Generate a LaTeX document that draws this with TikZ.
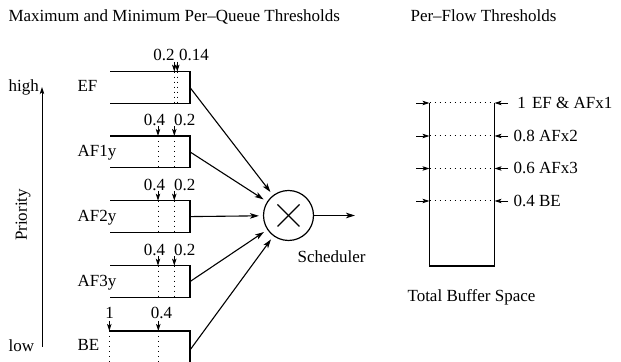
\documentclass[tikz,border=0pt]{standalone}
\usepackage{fontspec}
\setmainfont{Liberation Serif}
\usetikzlibrary{arrows.meta}
\begin{document}
\begin{tikzpicture}[x=0.5pt,y=-0.5pt, line width=0.55pt,
  lbl/.style={inner sep=0pt, font=\fontsize{8.5}{10}\selectfont},
  arr/.style={-{Stealth[length=4.5pt,width=2.8pt,inset=1.2pt]}},
  tick/.style={-{Stealth[length=3.5pt,width=2.2pt,inset=0.8pt]}, line width=0.45pt},
  thr/.style={dotted, line width=0.5pt},
  qbox/.style={line width=0.6pt}]
\useasboundingbox (0,0) rectangle (621,362);
\clip (0,0) rectangle (621,362);

% titles
\node[lbl, anchor=base west] (t1) at (8,22) {Maximum and Minimum Per–Queue Thresholds};
\node[lbl, anchor=base west] (t2) at (410,22) {Per–Flow Thresholds};

% priority axis
\node[lbl, anchor=base west] (high) at (8,92) {high};
\node[lbl, anchor=base west] (low) at (8,352) {low};
\node[lbl, rotate=90] (prio) at (23,215) {Priority};
\coordinate (pbot) at (42,347);
\coordinate (ptop) at (42,87);
\draw[tick] (pbot) -- (ptop);

% queue labels
\node[lbl, anchor=base west] (lEF) at (77,92) {EF};
\node[lbl, anchor=base west] (lA1) at (77,157) {AF1y};
\node[lbl, anchor=base west] (lA2) at (77,221.5) {AF2y};
\node[lbl, anchor=base west] (lA3) at (77,286.5) {AF3y};
\node[lbl, anchor=base west] (lBE) at (77,351) {BE};

% EF queue
\draw[qbox] (110,71.7) -- (190,71.7) -- (190,103.3) -- (110,103.3);
\draw[thr] (174.3,71.7) -- (174.3,103.3);
\draw[thr] (177.3,71.7) -- (177.3,103.3);
\coordinate (e1) at (174.3,62); \coordinate (e1b) at (174.3,71.7);
\coordinate (e2) at (177.3,62); \coordinate (e2b) at (177.3,71.7);
\draw[tick] (e1) -- (e1b);
\draw[tick] (e2) -- (e2b);
\node[lbl, anchor=base] (nEFa) at (164,60.5) {0.2};
\node[lbl, anchor=base] (nEFb) at (194,60.5) {0.14};
\coordinate (qEF) at (190,87.5);

% AF queues
\foreach \T/\nm in {136/A1, 200.7/A2, 265.7/A3}{
  \draw[qbox] (110,\T) -- (190,\T) -- (190,\T+31.8) -- (110,\T+31.8);
  \draw[thr] (158,\T) -- (158,\T+31.8);
  \draw[thr] (174.3,\T) -- (174.3,\T+31.8);
  \coordinate (\nm a) at (158,\T-9.5); \coordinate (\nm ab) at (158,\T);
  \coordinate (\nm b) at (174.3,\T-9.5); \coordinate (\nm bb) at (174.3,\T);
  \draw[tick] (\nm a) -- (\nm ab);
  \draw[tick] (\nm b) -- (\nm bb);
  \node[lbl, anchor=base] (n\nm a) at (154.5,\T-10.5) {0.4};
  \node[lbl, anchor=base west] (n\nm b) at (173.5,\T-10.5) {0.2};
  \coordinate (q\nm) at (190,\T+15.9);
}

% BE queue
\draw[qbox] (109.3,331) -- (190,331) -- (190,363);
\draw[thr] (109.3,331) -- (109.3,363);
\draw[thr] (158.3,331) -- (158.3,363);
\coordinate (b1) at (109.3,321.5); \coordinate (b1b) at (109.3,331);
\coordinate (b2) at (158.3,321.5); \coordinate (b2b) at (158.3,331);
\draw[tick] (b1) -- (b1b);
\draw[tick] (b2) -- (b2b);
\node[lbl, anchor=base] (nB1) at (109.7,319) {1};
\node[lbl, anchor=base] (nB2) at (161.5,319) {0.4};
\coordinate (qBE) at (190,350);

% scheduler
\node[draw, circle, minimum size=25pt, inner sep=0pt, line width=0.6pt] (sch) at (288.5,215.5) {};
\draw ([shift={(-11,-11)}]sch.center) -- ([shift={(11,11)}]sch.center);
\draw ([shift={(-11,11)}]sch.center) -- ([shift={(11,-11)}]sch.center);
\node[lbl, anchor=base west] (schl) at (297,263) {Scheduler};
\foreach \q in {qEF,qA1,qA2,qA3,qBE}{
  \draw[arr, shorten >=2pt] (\q) -- (sch);
}
\coordinate (out) at (355,215.5);
\draw[arr] (sch) -- (out);

% buffer
\draw[qbox] (429.5,103) -- (429.5,266) -- (494.5,266) -- (494.5,103);
\foreach \y [count=\i] in {103,136,168.5,201}{
  \draw[thr] (429.5,\y) -- (494.5,\y);
  \coordinate (L\i) at (416,\y); \coordinate (Lb\i) at (429.5,\y);
  \coordinate (R\i) at (508,\y); \coordinate (Rb\i) at (494.5,\y);
  \draw[tick] (L\i) -- (Lb\i);
  \draw[tick] (R\i) -- (Rb\i);
}
\node[lbl, anchor=base] (f1) at (521.5,108.5) {1};
\node[lbl, anchor=base west] (f1t) at (531.5,108.5) {EF \& AFx1};
\node[lbl, anchor=base west] (f2) at (513,141.5) {0.8 AFx2};
\node[lbl, anchor=base west] (f3) at (513,174) {0.6 AFx3};
\node[lbl, anchor=base west] (f4) at (513,206.5) {0.4 BE};
\node[lbl, anchor=base west] (tbs) at (407,302) {Total Buffer Space};
\end{tikzpicture}
\end{document}
